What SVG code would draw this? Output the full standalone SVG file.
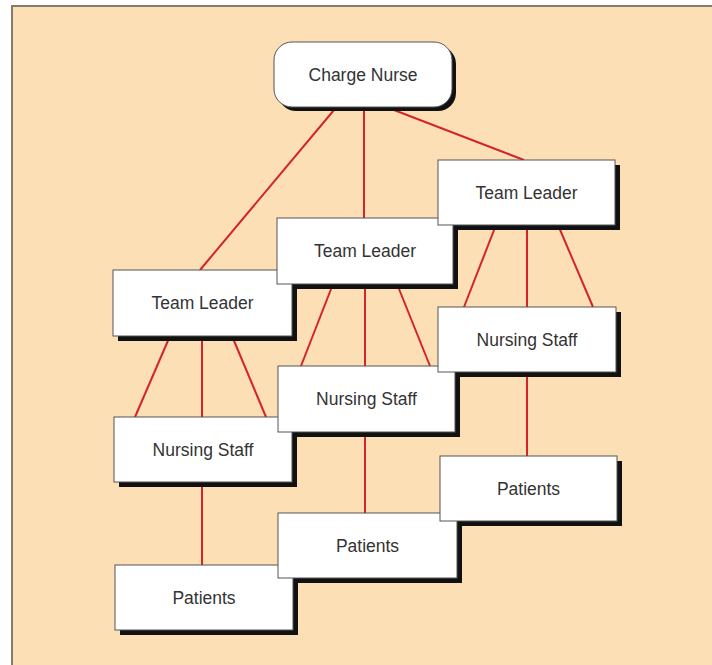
<svg xmlns="http://www.w3.org/2000/svg" width="712" height="665" viewBox="0 0 712 665">
<style>
.box{fill:#ffffff;stroke:#555;stroke-width:1}
.sh{fill:#111}
.lbl{font-family:"Liberation Sans",Arial,sans-serif;font-size:17.5px;fill:#333;text-anchor:middle}
.con line{stroke:#d42330;stroke-width:2}
</style>
<rect x="0" y="0" width="712" height="665" fill="#ffffff"/>
<rect x="12" y="6" width="710" height="670" fill="#fddfb6" stroke="#857a6e" stroke-width="2"/>
<g id="connectors" class="con">
<line x1="334" y1="110" x2="200" y2="270"/>
<line x1="364" y1="110" x2="364" y2="218"/>
<line x1="394" y1="110" x2="524" y2="160"/>
<line x1="170" y1="336" x2="135" y2="417"/>
<line x1="202" y1="336" x2="202" y2="417"/>
<line x1="232" y1="336" x2="266" y2="417"/>
<line x1="333" y1="284" x2="301" y2="366"/>
<line x1="365" y1="284" x2="365" y2="366"/>
<line x1="397" y1="284" x2="430" y2="366"/>
<line x1="496" y1="225" x2="464" y2="307"/>
<line x1="527" y1="225" x2="527" y2="307"/>
<line x1="558" y1="225" x2="593" y2="307"/>
<line x1="202" y1="482" x2="202" y2="565"/>
<line x1="365" y1="432" x2="365" y2="513"/>
<line x1="527" y1="372" x2="527" y2="456"/>
</g>
<g id="shadows">
<rect class="sh" x="278" y="46" width="178" height="65" rx="18"/>
<rect class="sh" x="118" y="275" width="179" height="66"/>
<rect class="sh" x="282" y="223" width="176" height="66"/>
<rect class="sh" x="443" y="165" width="177" height="65"/>
<rect class="sh" x="119" y="422" width="178" height="65"/>
<rect class="sh" x="283" y="371" width="177" height="66"/>
<rect class="sh" x="443" y="312" width="178" height="65"/>
<rect class="sh" x="120" y="570" width="178" height="65"/>
<rect class="sh" x="283" y="518" width="179" height="65"/>
<rect class="sh" x="445" y="461" width="177" height="65"/>
</g>
<g id="charge-nurse"><rect class="box" x="274" y="42" width="178" height="65" rx="18"/><text class="lbl" x="363" y="81">Charge Nurse</text></g>
<g id="team-leader-1"><rect class="box" x="113" y="270" width="179" height="66"/><text class="lbl" x="202.5" y="309">Team Leader</text></g>
<g id="team-leader-2"><rect class="box" x="277" y="218" width="176" height="66"/><text class="lbl" x="365" y="257">Team Leader</text></g>
<g id="team-leader-3"><rect class="box" x="438" y="160" width="177" height="65"/><text class="lbl" x="526.5" y="199">Team Leader</text></g>
<g id="nursing-staff-1"><rect class="box" x="114" y="417" width="178" height="65"/><text class="lbl" x="203" y="456">Nursing Staff</text></g>
<g id="nursing-staff-2"><rect class="box" x="278" y="366" width="177" height="66"/><text class="lbl" x="366.5" y="405">Nursing Staff</text></g>
<g id="nursing-staff-3"><rect class="box" x="438" y="307" width="178" height="65"/><text class="lbl" x="527" y="346">Nursing Staff</text></g>
<g id="patients-1"><rect class="box" x="115" y="565" width="178" height="65"/><text class="lbl" x="204" y="604">Patients</text></g>
<g id="patients-2"><rect class="box" x="278" y="513" width="179" height="65"/><text class="lbl" x="367.5" y="552">Patients</text></g>
<g id="patients-3"><rect class="box" x="440" y="456" width="177" height="65"/><text class="lbl" x="528.5" y="495">Patients</text></g>
</svg>
